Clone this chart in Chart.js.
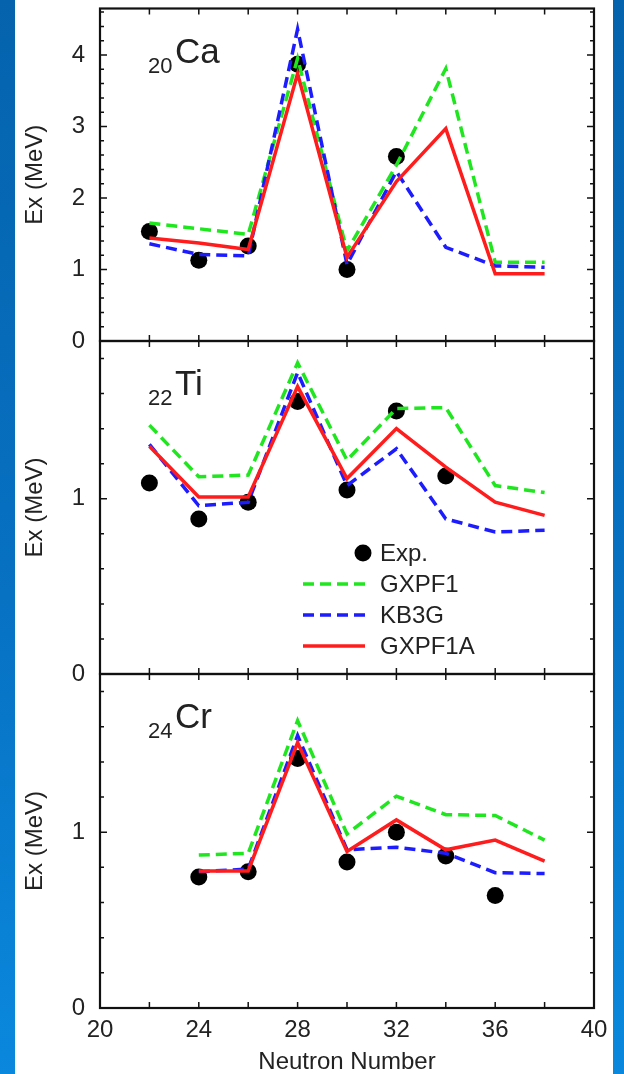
<!DOCTYPE html>
<html>
<head>
<meta charset="utf-8">
<script src="https://cdn.jsdelivr.net/npm/chart.js@4.4.1/dist/chart.umd.min.js"></script>
<style>
html, body { margin: 0; padding: 0; }
body {
    width: 624px; height: 1074px; overflow: hidden; position: relative;
    background: linear-gradient(to bottom, #0563ad 0%, #0771c2 55%, #0a88dd 100%);
}
#sheet { position: absolute; left: 15px; top: 0; width: 598px; height: 1074px; background: #fff; }
canvas { position: absolute; left: 15px; }
</style>
</head>
<body>
<div id="sheet"></div>
<canvas id="panel-ca" width="598" height="360" style="top:0px"></canvas>
<canvas id="panel-ti" width="598" height="360" style="top:330px"></canvas>
<canvas id="panel-cr" width="598" height="412" style="top:662px"></canvas>
<script>
// --- data ---------------------------------------------------------------

var neutronNumbers = [22, 24, 26, 28, 30, 32, 34, 36, 38];

var elementSymbols = ["Ca", "Ti", "Cr"];
var protonNumbers = ["20", "22", "24"];
var seriesNames = ["Exp.", "GXPF1", "KB3G", "GXPF1A"];

var caExp    = [1.53, 1.13, 1.33, 3.87, 1.00, 2.58, null, null, null];
var caGxpf1  = [1.65, 1.57, 1.49, 3.95, 1.26, 2.46, 3.81, 1.10, 1.10];
var caKb3g   = [1.36, 1.21, 1.19, 4.36, 1.07, 2.37, 1.31, 1.05, 1.03];
var caGxpf1a = [1.44, 1.37, 1.28, 3.74, 1.17, 2.23, 2.97, 0.94, 0.94];

var tiExp    = [1.09, 0.885, 0.98, 1.555, 1.05, 1.50, 1.13, null, null];
var tiGxpf1  = [1.42, 1.125, 1.135, 1.775, 1.22, 1.515, 1.52, 1.075, 1.035];
var tiKb3g   = [1.31, 0.96, 0.98, 1.72, 1.075, 1.285, 0.885, 0.81, 0.82];
var tiGxpf1a = [1.30, 1.01, 1.01, 1.64, 1.115, 1.40, 1.18, 0.98, 0.905];

var crExp    = [null, 0.745, 0.775, 1.42, 0.83, 1.00, 0.865, 0.64, null];
var crGxpf1  = [null, 0.87, 0.88, 1.635, 0.99, 1.205, 1.10, 1.095, 0.955];
var crKb3g   = [null, 0.775, 0.79, 1.55, 0.90, 0.915, 0.88, 0.77, 0.765];
var crGxpf1a = [null, 0.78, 0.78, 1.51, 0.89, 1.07, 0.90, 0.955, 0.835];

var yMaxima = [4.65, 1.9, 1.9];

// ------------------------------------------------------------------------

var FONT = '"Liberation Sans", Arial, Helvetica, sans-serif';
var TEXT_COLOR = "#222";
var GREEN = "#1fe61f";
var BLUE = "#1c1cff";
var RED = "#ff1c1c";

Chart.defaults.font.family = FONT;
Chart.defaults.color = TEXT_COLOR;

function isWhole(v) {
    return Math.abs(v - Math.round(v)) < 1e-6;
}

function toPoints(values) {
    return neutronNumbers.map(function (n, i) {
        return {x: n, y: values[i]};
    });
}

// frame + inward ticks, gnuplot style
var frameTicks = {
    id: "frameTicks",
    afterDatasetsDraw: function (chart) {
        var ctx = chart.ctx, a = chart.chartArea, sx = chart.scales.x, sy = chart.scales.y;
        ctx.save();
        ctx.strokeStyle = "#111";
        ctx.lineWidth = 1.5;
        ctx.beginPath();
        sy.ticks.forEach(function (t) {
            var py = sy.getPixelForValue(t.value);
            var len = isWhole(t.value) ? 7 : 4;
            ctx.moveTo(a.left, py); ctx.lineTo(a.left + len, py);
            ctx.moveTo(a.right, py); ctx.lineTo(a.right - len, py);
        });
        sx.ticks.forEach(function (t) {
            if (t.value <= sx.min || t.value >= sx.max) return;
            var px = sx.getPixelForValue(t.value);
            ctx.moveTo(px, a.top); ctx.lineTo(px, a.top + 6);
            ctx.moveTo(px, a.bottom); ctx.lineTo(px, a.bottom - 6);
        });
        ctx.stroke();
        ctx.lineWidth = 2.2;
        ctx.strokeRect(a.left, a.top, a.right - a.left, a.bottom - a.top);
        ctx.restore();
    }
};

// nucleus label like 20Ca
var panelLabel = {
    id: "panelLabel",
    afterDraw: function (chart, args, opts) {
        var ctx = chart.ctx, a = chart.chartArea;
        ctx.save();
        ctx.fillStyle = TEXT_COLOR;
        ctx.textBaseline = "alphabetic";
        ctx.textAlign = "left";
        ctx.font = "22px " + FONT;
        ctx.fillText(opts.sub, a.left + 48, a.top + 64);
        ctx.font = "35px " + FONT;
        ctx.fillText(opts.sym, a.left + 75, a.top + 54);
        ctx.restore();
    }
};

// legend placed inside the Ti panel
var insideLegend = {
    id: "insideLegend",
    afterDraw: function (chart, args, opts) {
        if (!opts.show) return;
        var ctx = chart.ctx, a = chart.chartArea;
        var ds = chart.data.datasets;
        var rows = [ds[3], ds[2], ds[1], ds[0]]; // Exp, GXPF1, KB3G, GXPF1A
        ctx.save();
        ctx.font = "24px " + FONT;
        ctx.textBaseline = "middle";
        ctx.textAlign = "left";
        rows.forEach(function (d, i) {
            var y = a.top + 212 + i * 31;
            if (d.showLine === false) {
                ctx.fillStyle = d.backgroundColor;
                ctx.beginPath();
                ctx.arc(a.left + 263, y, d.pointRadius, 0, Math.PI * 2);
                ctx.fill();
            } else {
                ctx.strokeStyle = d.borderColor;
                ctx.lineWidth = d.borderWidth;
                ctx.setLineDash(d.borderDash || []);
                ctx.beginPath();
                ctx.moveTo(a.left + 203, y);
                ctx.lineTo(a.left + 265, y);
                ctx.stroke();
                ctx.setLineDash([]);
            }
            ctx.fillStyle = TEXT_COLOR;
            ctx.fillText(d.label, a.left + 280, y + 1);
        });
        ctx.restore();
    }
};

function makePanel(canvasId, idx, series, pad, bottomAxis) {
    var datasets = [
        {label: seriesNames[3], data: toPoints(series[3]), borderColor: RED, borderWidth: 3.5, pointRadius: 0, tension: 0},
        {label: seriesNames[2], data: toPoints(series[2]), borderColor: BLUE, borderWidth: 3.5, borderDash: [11, 6], pointRadius: 0, tension: 0},
        {label: seriesNames[1], data: toPoints(series[1]), borderColor: GREEN, borderWidth: 3.5, borderDash: [11, 6], pointRadius: 0, tension: 0},
        {label: seriesNames[0], data: toPoints(series[0]), showLine: false, backgroundColor: "#000", borderWidth: 0, pointRadius: 8.5}
    ];

    return new Chart(document.getElementById(canvasId), {
        type: "line",
        data: {datasets: datasets},
        plugins: [frameTicks, panelLabel, insideLegend],
        options: {
            responsive: false,
            animation: false,
            devicePixelRatio: 1,
            layout: {padding: {left: 0, right: 19, top: pad[0], bottom: pad[1]}},
            plugins: {
                legend: {display: false},
                tooltip: {enabled: false},
                panelLabel: {sub: protonNumbers[idx], sym: elementSymbols[idx]},
                insideLegend: {show: idx === 1}
            },
            scales: {
                x: {
                    type: "linear",
                    min: 20,
                    max: 40,
                    grid: {display: false, drawTicks: false},
                    border: {display: false},
                    ticks: {
                        display: bottomAxis,
                        stepSize: 2,
                        autoSkip: false,
                        maxRotation: 0,
                        padding: 8,
                        font: {size: 24},
                        callback: function (v) { return v % 4 === 0 ? String(v) : ""; }
                    },
                    title: {
                        display: bottomAxis,
                        text: "Neutron Number",
                        font: {size: 24, lineHeight: 1},
                        padding: {top: 0, bottom: 0}
                    },
                    afterFit: function (s) {
                        s.height = bottomAxis ? 66 : 0;
                        s.paddingLeft = 0;
                        s.paddingRight = 0;
                    }
                },
                y: {
                    type: "linear",
                    min: 0,
                    max: yMaxima[idx],
                    grid: {display: false, drawTicks: false},
                    border: {display: false},
                    ticks: {
                        stepSize: 0.2,
                        includeBounds: false,
                        autoSkip: false,
                        padding: 15,
                        font: {size: 24},
                        callback: function (v) { return isWhole(v) ? String(Math.round(v)) : ""; }
                    },
                    title: {
                        display: true,
                        text: "Ex (MeV)",
                        font: {size: 24},
                        padding: {top: 6, bottom: 0}
                    },
                    afterFit: function (s) {
                        s.width = 85;
                        s.paddingTop = 0;
                        s.paddingBottom = 0;
                    }
                }
            }
        }
    });
}

makePanel("panel-ca", 0, [caExp, caGxpf1, caKb3g, caGxpf1a], [8, 19], false);
makePanel("panel-ti", 1, [tiExp, tiGxpf1, tiKb3g, tiGxpf1a], [11, 16], false);
makePanel("panel-cr", 2, [crExp, crGxpf1, crKb3g, crGxpf1a], [12, 0], true);
</script>
</body>
</html>
